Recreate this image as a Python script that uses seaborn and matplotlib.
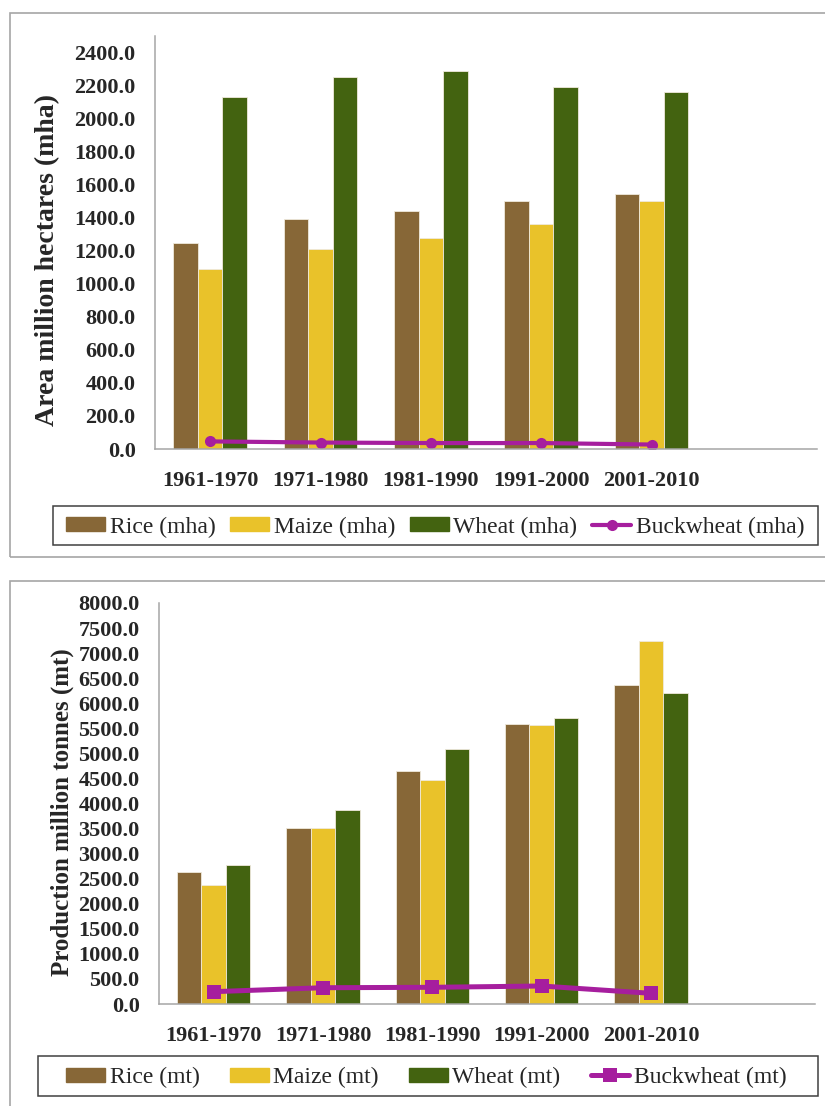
import numpy as np
import pandas as pd
import seaborn as sns
import matplotlib
matplotlib.use("Agg")
import matplotlib.pyplot as plt
from matplotlib.patches import Rectangle, Patch
from matplotlib.lines import Line2D
from matplotlib.ticker import FormatStrFormatter

# Decadal averages
periods = ["1961-1970", "1971-1980", "1981-1990", "1991-2000", "2001-2010"]

area_rice = [1246, 1393, 1443, 1499, 1544]
area_maize = [1089, 1212, 1280, 1365, 1504]
area_wheat = [2133, 2250, 2290, 2193, 2161]
area_buckwheat = [46, 39, 36, 36, 27]

prod_rice = [2629, 3515, 4657, 5583, 6361]
prod_maize = [2369, 3507, 4471, 5563, 7246]
prod_wheat = [2768, 3872, 5084, 5696, 6208]
prod_buckwheat = [246, 325, 333, 359, 213]

area_labels = ["Rice (mha)", "Maize (mha)", "Wheat (mha)", "Buckwheat (mha)"]
prod_labels = ["Rice (mt)", "Maize (mt)", "Wheat (mt)", "Buckwheat (mt)"]

RICE = "#876737"
MAIZE = "#E9C22A"
WHEAT = "#436310"
BUCK = "#A61E9E"
GRID = "#A6A6A6"

sns.set_theme(style="white")
plt.rcParams["font.family"] = ["Liberation Serif", "DejaVu Serif"]

W, H = 825, 1106
fig = plt.figure(figsize=(W / 100, H / 100), dpi=100)


def px_axes(left, top, right, bottom):
    return fig.add_axes([left / W, 1 - bottom / H, (right - left) / W, (bottom - top) / H])


def px_rect(left, top, right, bottom, edge, lw):
    fig.patches.append(Rectangle((left / W, 1 - bottom / H), (right - left) / W,
                                 (bottom - top) / H, transform=fig.transFigure,
                                 fill=False, edgecolor=edge, linewidth=lw))


def panel(ax, rice, maize, wheat, buck, labels, ymax, step, ylabel, ylab_size,
          lab_xy, marker, msize, lw, leg_box, leg_start, leg_spacing):
    slots = periods + [" "]
    df = pd.DataFrame({
        "period": periods * 3,
        "crop": [labels[0]] * 5 + [labels[1]] * 5 + [labels[2]] * 5,
        "value": rice + maize + wheat,
    })
    sns.barplot(data=df, x="period", y="value", hue="crop", order=slots,
                hue_order=labels[:3], palette=[RICE, MAIZE, WHEAT],
                width=0.67, gap=0, legend=False, ax=ax,
                edgecolor="#efe9dc", linewidth=0.6, saturation=1)
    sns.lineplot(x=np.arange(len(periods)), y=buck, color=BUCK, marker=marker,
                 markersize=msize, markeredgewidth=0, linewidth=lw,
                 legend=False, ax=ax)
    ax.set_yticks(np.arange(0, ymax + 1e-6, step))
    ax.yaxis.set_major_formatter(FormatStrFormatter("%.1f"))
    ax.set_xlim(-0.5, len(slots) - 0.5)
    ax.set_ylim(0, ymax)
    ax.set_xlabel("")
    ax.set_ylabel(ylabel, fontsize=ylab_size, fontweight="bold", va="center")
    ax.yaxis.set_label_coords(*lab_xy)
    ax.tick_params(axis="both", length=0, labelsize=16)
    ax.tick_params(axis="y", pad=14)
    ax.tick_params(axis="x", pad=16)
    for t in ax.get_xticklabels() + ax.get_yticklabels():
        t.set_fontweight("bold")
    for s in ("top", "right"):
        ax.spines[s].set_visible(False)
    for s in ("left", "bottom"):
        ax.spines[s].set_color(GRID)
        ax.spines[s].set_linewidth(1.1)

    handles = [Patch(facecolor=RICE, edgecolor=RICE),
               Patch(facecolor=MAIZE, edgecolor=MAIZE),
               Patch(facecolor=WHEAT, edgecolor=WHEAT),
               Line2D([], [], color=BUCK, marker=marker, markersize=msize,
                      markeredgewidth=0, linewidth=lw)]
    left, top, right, bottom = leg_box
    px_rect(left, top, right, bottom, "#404040", 1.1)
    fig.legend(handles, labels, loc="center left",
               bbox_to_anchor=(leg_start / W, 1 - ((top + bottom) / 2 + 1.5) / H),
               ncol=4, fontsize=17, frameon=False,
               handlelength=1.65, handleheight=0.55, handletextpad=0.2,
               columnspacing=leg_spacing, borderpad=0, borderaxespad=0)


# Outer frames of the two panels
px_rect(10, 13, 840, 557, GRID, 1.2)
px_rect(10, 581, 840, 1115, GRID, 1.2)

ax1 = px_axes(155, 36, 817, 449)
panel(ax1, area_rice, area_maize, area_wheat, area_buckwheat, area_labels,
      2500, 200, "Area million hectares (mha)", 20, (-0.1616, 0.4576),
      "o", 8, 3.0, (53, 506, 818, 545), 66, 0.62)

ax2 = px_axes(159, 603, 815, 1004)
panel(ax2, prod_rice, prod_maize, prod_wheat, prod_buckwheat, prod_labels,
      8000, 500, "Production million tonnes (mt)", 18, (-0.1479, 0.479),
      "s", 10, 3.6, (38, 1056, 818, 1096), 66, 1.27)

fig.savefig("out.png", dpi=100, facecolor="white")
